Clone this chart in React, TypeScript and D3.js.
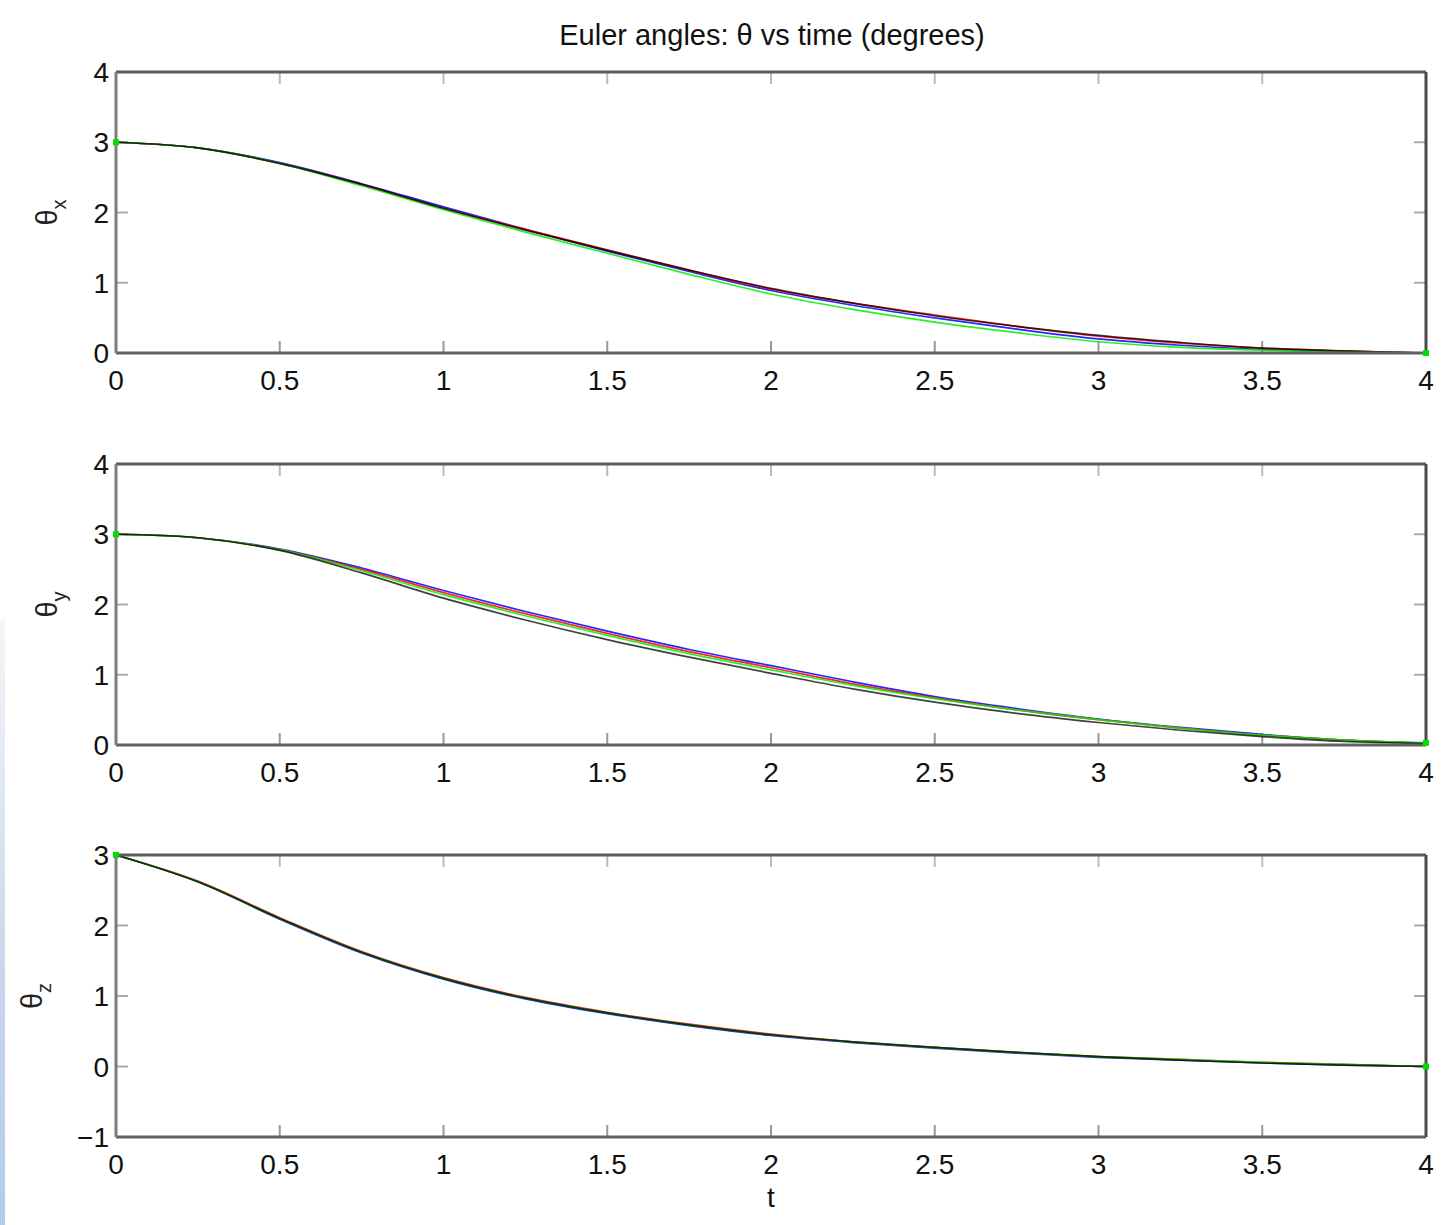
import React, { useEffect, useRef } from 'react';
import * as d3 from 'd3';

// time samples (s)
const times = [0, 0.25, 0.5, 0.75, 1, 1.25, 1.5, 1.75, 2, 2.25, 2.5, 2.75, 3, 3.25, 3.5, 3.75, 4];
const xTicks = [0, 0.5, 1, 1.5, 2, 2.5, 3, 3.5, 4];

// theta_x
const thetaXRed = [3.0, 2.92, 2.7, 2.4, 2.06, 1.76, 1.47, 1.18, 0.91, 0.71, 0.54, 0.38, 0.24, 0.14, 0.07, 0.03, 0.0];
const thetaXBlue = [3.0, 2.92, 2.71, 2.41, 2.08, 1.76, 1.45, 1.16, 0.89, 0.68, 0.5, 0.34, 0.2, 0.11, 0.05, 0.02, 0.0];
const thetaXGreen = [3.0, 2.92, 2.7, 2.38, 2.04, 1.72, 1.42, 1.12, 0.84, 0.62, 0.44, 0.29, 0.16, 0.08, 0.04, 0.02, 0.0];
const thetaXBlack = [3.0, 2.92, 2.7, 2.4, 2.06, 1.75, 1.46, 1.18, 0.92, 0.71, 0.53, 0.38, 0.25, 0.15, 0.07, 0.03, 0.0];

// theta_y
const thetaYRed = [3.0, 2.95, 2.78, 2.5, 2.17, 1.87, 1.59, 1.33, 1.1, 0.87, 0.67, 0.5, 0.36, 0.24, 0.14, 0.07, 0.02];
const thetaYBlue = [3.0, 2.95, 2.79, 2.52, 2.2, 1.9, 1.62, 1.36, 1.13, 0.9, 0.69, 0.52, 0.37, 0.25, 0.15, 0.07, 0.03];
const thetaYGreen = [3.0, 2.95, 2.78, 2.48, 2.14, 1.84, 1.56, 1.3, 1.07, 0.85, 0.66, 0.5, 0.36, 0.24, 0.14, 0.07, 0.03];
const thetaYBlack = [3.0, 2.95, 2.77, 2.45, 2.09, 1.78, 1.5, 1.25, 1.02, 0.8, 0.61, 0.45, 0.32, 0.21, 0.12, 0.05, 0.02];

// theta_z
const thetaZRed = [3.0, 2.63, 2.11, 1.63, 1.26, 0.98, 0.77, 0.6, 0.46, 0.35, 0.27, 0.2, 0.14, 0.1, 0.06, 0.03, 0.0];
const thetaZBlue = [3.0, 2.62, 2.09, 1.61, 1.24, 0.96, 0.75, 0.58, 0.44, 0.34, 0.26, 0.19, 0.13, 0.09, 0.05, 0.02, 0.0];
const thetaZGreen = [3.0, 2.62, 2.1, 1.62, 1.25, 0.97, 0.76, 0.59, 0.45, 0.35, 0.27, 0.2, 0.14, 0.1, 0.06, 0.03, 0.0];
const thetaZBlack = [3.0, 2.62, 2.1, 1.62, 1.25, 0.97, 0.76, 0.59, 0.45, 0.35, 0.27, 0.2, 0.14, 0.09, 0.05, 0.02, 0.0];

const yTicksXY = [0, 1, 2, 3, 4];
const yTicksZ = [-1, 0, 1, 2, 3];

const W = 1449;
const H = 1225;
const FONT = '"Liberation Sans", Arial, Helvetica, sans-serif';

const panels = [
  { sub: 'x', domain: [0, 4], ticks: yTicksXY, top: 72, bottom: 353, labelX: 57,
    series: [thetaXBlue, thetaXRed, thetaXGreen, thetaXBlack] },
  { sub: 'y', domain: [0, 4], ticks: yTicksXY, top: 464, bottom: 745, labelX: 57,
    series: [thetaYBlue, thetaYRed, thetaYGreen, thetaYBlack] },
  { sub: 'z', domain: [-1, 3], ticks: yTicksZ, top: 855, bottom: 1137, labelX: 42,
    series: [thetaZBlue, thetaZRed, thetaZGreen, thetaZBlack] },
];
const colors = ['#0000ff', '#ff0000', '#00ee00', '#000000'];

const App = () => {
  const ref = useRef<SVGSVGElement>(null);

  useEffect(() => {
    const svg = d3.select(ref.current);
    svg.selectAll('*').remove();

    // faint strip on the left edge of the screenshot
    const grad = svg.append('defs').append('linearGradient')
      .attr('id', 'edge').attr('x1', 0).attr('x2', 0).attr('y1', 0).attr('y2', 1);
    grad.append('stop').attr('offset', '0%').attr('stop-color', '#f4f6f8');
    grad.append('stop').attr('offset', '60%').attr('stop-color', '#c8d6ea');
    grad.append('stop').attr('offset', '100%').attr('stop-color', '#b4cbee');
    svg.append('rect').attr('x', 0).attr('y', 620).attr('width', 5).attr('height', 605)
      .attr('fill', 'url(#edge)');

    const x = d3.scaleLinear().domain([0, 4]).range([116, 1426]);

    svg.append('text')
      .attr('x', 772).attr('y', 45)
      .attr('text-anchor', 'middle')
      .attr('font-family', FONT).attr('font-size', 29)
      .attr('fill', '#111')
      .text('Euler angles: θ vs time (degrees)');

    panels.forEach((p) => {
      const y = d3.scaleLinear().domain(p.domain).range([p.bottom, p.top]);
      const g = svg.append('g');

      // inward ticks on all four sides
      const tickLen = 12;
      xTicks.slice(1, -1).forEach((t) => {
        g.append('line').attr('x1', x(t)).attr('x2', x(t))
          .attr('y1', p.bottom).attr('y2', p.bottom - tickLen)
          .attr('stroke', '#999').attr('stroke-width', 2);
        g.append('line').attr('x1', x(t)).attr('x2', x(t))
          .attr('y1', p.top).attr('y2', p.top + tickLen)
          .attr('stroke', '#bbb').attr('stroke-width', 2);
      });
      p.ticks.slice(1, -1).forEach((v) => {
        g.append('line').attr('x1', x(0)).attr('x2', x(0) + tickLen)
          .attr('y1', y(v)).attr('y2', y(v))
          .attr('stroke', '#aaa').attr('stroke-width', 2);
        g.append('line').attr('x1', x(4)).attr('x2', x(4) - tickLen)
          .attr('y1', y(v)).attr('y2', y(v))
          .attr('stroke', '#aaa').attr('stroke-width', 2);
      });

      // lines
      const line = d3.line<number>()
        .x((_, i) => x(times[i]))
        .y((d) => y(d))
        .curve(d3.curveCatmullRom.alpha(0.5));
      p.series.forEach((s, i) => {
        g.append('path').datum(s)
          .attr('d', line)
          .attr('fill', 'none')
          .attr('stroke', colors[i])
          .attr('stroke-width', 1.7)
          .attr('stroke-opacity', i === 3 ? 0.75 : 0.85);
      });

      // box
      g.append('line').attr('x1', x(0)).attr('x2', x(4)).attr('y1', p.top).attr('y2', p.top)
        .attr('stroke', '#5c5c5c').attr('stroke-width', 3);
      g.append('line').attr('x1', x(0)).attr('x2', x(4)).attr('y1', p.bottom).attr('y2', p.bottom)
        .attr('stroke', '#616161').attr('stroke-width', 3);
      g.append('line').attr('x1', x(0)).attr('x2', x(0)).attr('y1', p.top).attr('y2', p.bottom)
        .attr('stroke', '#7c7c7c').attr('stroke-width', 3);
      g.append('line').attr('x1', x(4)).attr('x2', x(4)).attr('y1', p.top).attr('y2', p.bottom)
        .attr('stroke', '#4a4a4a').attr('stroke-width', 3);

      // start / end markers
      const first = p.series[2];
      [[times[0], first[0]], [times[times.length - 1], first[first.length - 1]]].forEach(([t, v]) => {
        g.append('rect').attr('x', x(t) - 3).attr('y', y(v) - 3)
          .attr('width', 6).attr('height', 6).attr('fill', '#00e000');
      });

      // tick labels
      xTicks.forEach((t) => {
        g.append('text')
          .attr('x', x(t)).attr('y', p.bottom + 37)
          .attr('text-anchor', 'middle')
          .attr('font-family', FONT).attr('font-size', 28)
          .attr('fill', '#111')
          .text(String(t));
      });
      p.ticks.forEach((v) => {
        g.append('text')
          .attr('x', 109).attr('y', y(v))
          .attr('dy', '0.36em')
          .attr('text-anchor', 'end')
          .attr('font-family', FONT).attr('font-size', 28)
          .attr('fill', '#111')
          .text(v < 0 ? '\u2212' + Math.abs(v) : String(v));
      });

      // y label
      const cy = (p.top + p.bottom) / 2;
      const lbl = g.append('text')
        .attr('transform', `translate(${p.labelX},${cy}) rotate(-90)`)
        .attr('text-anchor', 'middle')
        .attr('font-family', FONT).attr('font-size', 29)
        .attr('fill', '#222');
      lbl.append('tspan').text('θ');
      lbl.append('tspan').attr('font-size', 20).attr('dy', 9).text(p.sub);
    });

    svg.append('text')
      .attr('x', 771).attr('y', 1207)
      .attr('text-anchor', 'middle')
      .attr('font-family', FONT).attr('font-size', 28)
      .attr('fill', '#111')
      .text('t');
  }, []);

  return (
    <svg
      ref={ref}
      width={W}
      height={H}
      style={{ position: 'absolute', left: 0, top: 0, background: '#fff' }}
    />
  );
};

export default App;
